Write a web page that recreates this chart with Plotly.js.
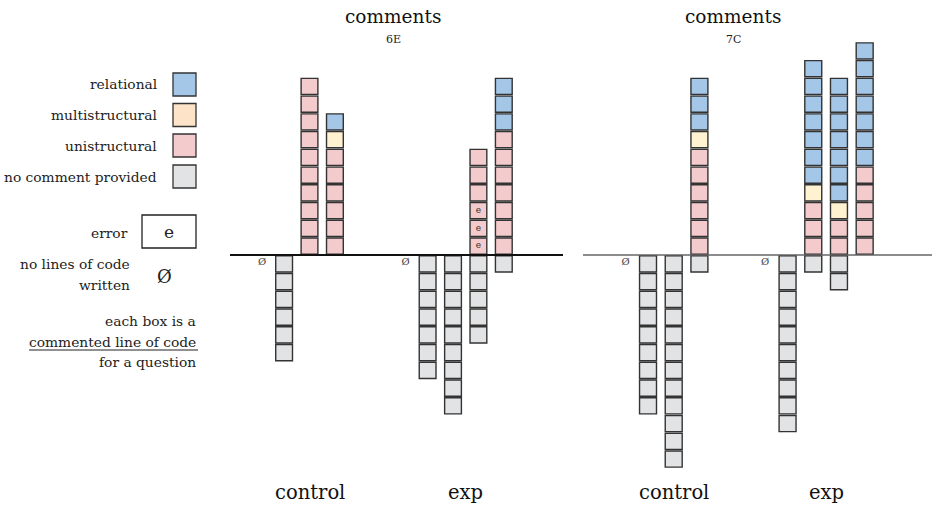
<!DOCTYPE html>
<html>
<head>
<meta charset="utf-8">
<script src="https://cdn.plot.ly/plotly-3.0.1.min.js"></script>
<style>html,body{margin:0;padding:0;background:#fff;}#chart{width:932px;height:507px;}</style>
</head>
<body>
<div id="chart"></div>
<script>
// ---------- DATA ----------
const panels = ['6E', '7C'];
const groupNames = ['control', 'exp'];
// column -> group (per panel, 3 control columns + 4 exp columns)
const colGroup = [0, 0, 0, 1, 1, 1, 1];
const colInGroup = [0, 1, 2, 0, 1, 2, 3];

// panel 6E: number of boxes per column
const uni6E   = [0, 10, 6, 0, 0, 6, 7];
const multi6E = [0, 0, 1, 0, 0, 0, 0];
const rel6E   = [0, 0, 1, 0, 0, 0, 3];
const none6E  = [6, 0, 0, 7, 9, 5, 1];
const err6E   = [0, 0, 0, 0, 0, 3, 0];
const noCode6E = [1, 0, 0, 1, 0, 0, 0];

// panel 7C
const uni7C   = [0, 0, 6, 0, 3, 2, 5];
const multi7C = [0, 0, 1, 0, 1, 1, 0];
const rel7C   = [0, 0, 3, 0, 7, 7, 7];
const none7C  = [9, 12, 1, 10, 1, 2, 0];
const err7C   = [0, 0, 0, 0, 0, 0, 0];
const noCode7C = [1, 0, 0, 1, 0, 0, 0];

const legendLabels = ['relational', 'multistructural', 'unistructural', 'no comment provided'];

// ---------- STYLE / LAYOUT ----------
const W = 932, H = 507;
const FONT = 'DejaVu Serif';
const COL = {rel: '#a4c7e8', multi: '#fff2d0', uni: '#f4cbcd', none: '#e2e3e5'};
const LEGCOL = ['#a4c7e8', '#fde4c9', '#f4cbcd', '#e2e3e5'];
const EDGE = '#333333';
const groupStart = [[0, 5.65], [0, 5.43]];
const GAP = 0.045, BW = 0.66;
const LEGSIZE = 13.8;
const px = x => x / W, py = y => 1 - y / H;

const panelData = [
  {uni: uni6E, multi: multi6E, rel: rel6E, none: none6E, err: err6E, noCode: noCode6E, ax: 'x'},
  {uni: uni7C, multi: multi7C, rel: rel7C, none: none7C, err: err7C, noCode: noCode7C, ax: 'x2'}
];

const traces = [];
panelData.forEach((pd, p) => {
  const pos = colGroup.map((g, i) => groupStart[p][g] + colInGroup[i]);
  function stack(counts, offsets, color, below) {
    const x = [], base = [], y = [];
    counts.forEach((n, i) => {
      for (let k = 0; k < n; k++) {
        x.push(pos[i]);
        if (below) base.push(-(k + 1) + GAP); else base.push(offsets[i] + k + GAP);
        y.push(1 - 2 * GAP);
      }
    });
    traces.push({type: 'bar', x, y, base, width: BW, xaxis: pd.ax, yaxis: 'y',
      marker: {color, line: {color: EDGE, width: 1.4}}, hoverinfo: 'skip', showlegend: false});
  }
  const zero = pd.uni.map(() => 0);
  stack(pd.uni, zero, COL.uni, false);
  stack(pd.multi, pd.uni, COL.multi, false);
  stack(pd.rel, pd.uni.map((u, i) => u + pd.multi[i]), COL.rel, false);
  stack(pd.none, zero, COL.none, true);
  // error marks
  const ex = [], ey = [];
  pd.err.forEach((n, i) => { for (let k = 0; k < n; k++) { ex.push(pos[i]); ey.push(k + 0.5); } });
  traces.push({type: 'scatter', mode: 'text', x: ex, y: ey, text: ex.map(() => 'e'),
    textfont: {family: FONT, size: 9, color: '#333'}, xaxis: pd.ax, yaxis: 'y', hoverinfo: 'skip', showlegend: false});
  // no code marks
  const nx = [], ny = [];
  pd.noCode.forEach((f, i) => { if (f) { nx.push(pos[i] - 0.87); ny.push(-0.42); } });
  traces.push({type: 'scatter', mode: 'text', x: nx, y: ny, text: nx.map(() => 'Ø'),
    textfont: {family: FONT, size: 10, color: '#444'}, xaxis: pd.ax, yaxis: 'y', hoverinfo: 'skip', showlegend: false});
});

const annotations = [];
const shapes = [];
// panel titles
[[393, '6E'], [733, '7C']].forEach(([xc, lab]) => {
  annotations.push({xref: 'paper', yref: 'paper', x: px(xc), y: py(17), text: 'comments', showarrow: false,
    xanchor: 'center', yanchor: 'middle', font: {family: FONT, size: 18.5, color: '#111'}});
  annotations.push({xref: 'paper', yref: 'paper', x: px(xc), y: py(40), text: lab, showarrow: false,
    xanchor: 'center', yanchor: 'middle', font: {family: FONT, size: 11, color: '#222'}});
});
// group labels under each group
panelData.forEach((pd, p) => {
  groupNames.forEach((g, gi) => {
    const n = colGroup.filter(c => c === gi).length;
    const center = groupStart[p][gi] + (n - 1) / 2;
    annotations.push({xref: pd.ax, yref: 'paper', x: center, y: py(492), text: g, showarrow: false,
      xanchor: 'center', yanchor: 'middle', font: {family: FONT, size: 19.5, color: '#111'}});
  });
});
// axis lines
shapes.push({type: 'line', xref: 'x domain', yref: 'y', x0: 0, x1: 1, y0: 0, y1: 0, line: {color: '#111', width: 2}});
shapes.push({type: 'line', xref: 'x2 domain', yref: 'y', x0: 0, x1: 1, y0: 0, y1: 0, line: {color: '#666', width: 1.5}});

// legend
const legY = [84.5, 115, 145.5, 176.5];
legendLabels.forEach((lab, i) => {
  annotations.push({xref: 'paper', yref: 'paper', x: px(159), y: py(legY[i]), text: lab, showarrow: false,
    xanchor: 'right', yanchor: 'middle', font: {family: FONT, size: LEGSIZE, color: '#222'}});
  shapes.push({type: 'rect', xref: 'paper', yref: 'paper', x0: px(173), x1: px(196), y0: py(legY[i] - 11.5), y1: py(legY[i] + 11.5),
    fillcolor: LEGCOL[i], line: {color: EDGE, width: 1.3}});
});
annotations.push({xref: 'paper', yref: 'paper', x: px(130), y: py(233), text: 'error', showarrow: false,
  xanchor: 'right', yanchor: 'middle', font: {family: FONT, size: LEGSIZE, color: '#222'}});
shapes.push({type: 'rect', xref: 'paper', yref: 'paper', x0: px(142), x1: px(196), y0: py(215), y1: py(248),
  fillcolor: '#fff', line: {color: '#222', width: 1.3}});
annotations.push({xref: 'paper', yref: 'paper', x: px(169), y: py(232), text: 'e', showarrow: false,
  xanchor: 'center', yanchor: 'middle', font: {family: FONT, size: 17, color: '#222'}});
annotations.push({xref: 'paper', yref: 'paper', x: px(132), y: py(264), text: 'no lines of code', showarrow: false,
  xanchor: 'right', yanchor: 'middle', font: {family: FONT, size: LEGSIZE, color: '#222'}});
annotations.push({xref: 'paper', yref: 'paper', x: px(132), y: py(285), text: 'written', showarrow: false,
  xanchor: 'right', yanchor: 'middle', font: {family: FONT, size: LEGSIZE, color: '#222'}});
annotations.push({xref: 'paper', yref: 'paper', x: px(164), y: py(276), text: 'Ø', showarrow: false,
  xanchor: 'center', yanchor: 'middle', font: {family: FONT, size: 18, color: '#222'}});
[['each box is a', 321], ['commented line of code', 342], ['for a question', 362]].forEach(([t, y]) => {
  annotations.push({xref: 'paper', yref: 'paper', x: px(198), y: py(y), text: t, showarrow: false,
    xanchor: 'right', yanchor: 'middle', font: {family: FONT, size: LEGSIZE, color: '#222'}});
});
shapes.push({type: 'line', xref: 'paper', yref: 'paper', x0: px(29), x1: px(198), y0: py(350), y1: py(350), line: {color: '#222', width: 1}});

const layout = {
  width: W, height: H, margin: {l: 0, r: 0, t: 0, b: 0},
  font: {family: FONT},
  paper_bgcolor: '#fff', plot_bgcolor: 'rgba(0,0,0,0)',
  barmode: 'overlay', showlegend: false,
  xaxis: {domain: [px(230), px(563)], range: [-2.13, 10.98], visible: false, fixedrange: true},
  xaxis2: {domain: [px(583), 1], range: [-2.53, 11.05], visible: false, anchor: 'y', fixedrange: true},
  yaxis: {domain: [0, 1], range: [-14.2, 14.37], visible: false, fixedrange: true},
  annotations, shapes
};
Plotly.newPlot('chart', traces, layout, {displayModeBar: false, staticPlot: true});
</script>
</body>
</html>
